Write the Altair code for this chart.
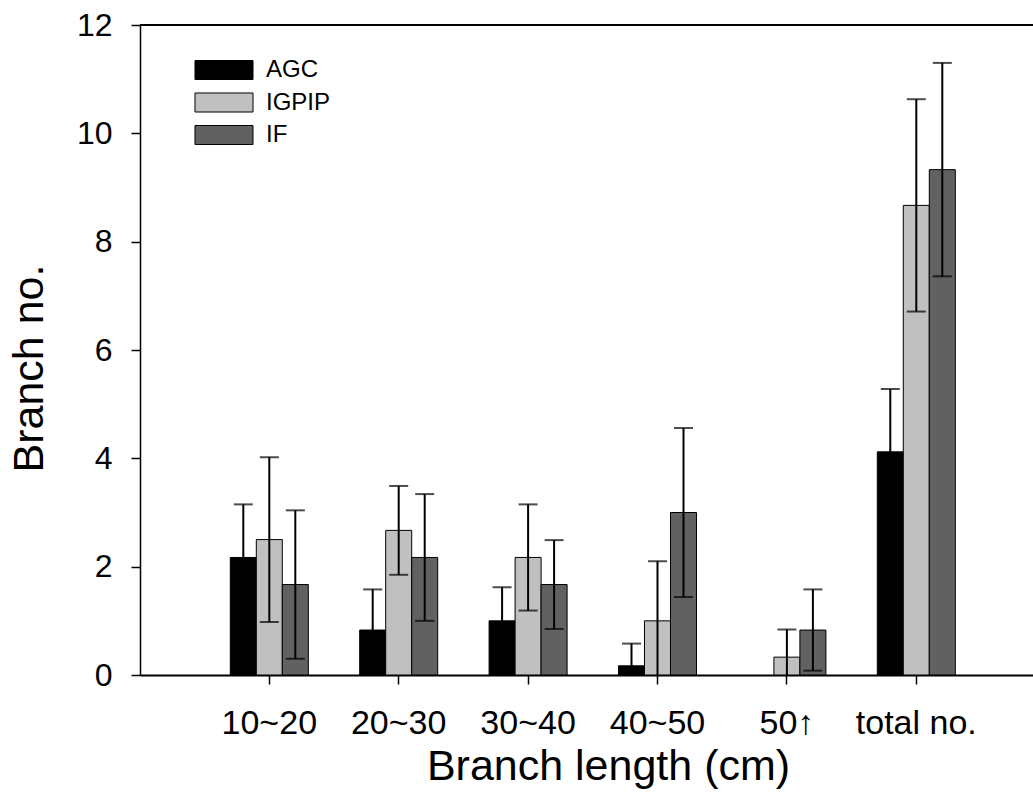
import altair as alt
import pandas as pd

categories = ["10~20", "20~30", "30~40", "40~50", "50↑", "total no."]
series = ["AGC", "IGPIP", "IF"]
colors = ["#000000", "#c0c0c0", "#616161"]

agc_mean = [2.17, 0.83, 1.00, 0.17, 0.00, 4.12]
agc_sd = [0.98, 0.75, 0.62, 0.41, 0.00, 1.16]
igpip_mean = [2.50, 2.67, 2.17, 1.00, 0.33, 8.67]
igpip_sd = [1.52, 0.82, 0.98, 1.10, 0.51, 1.96]
if_mean = [1.67, 2.17, 1.67, 3.00, 0.83, 9.33]
if_sd = [1.37, 1.17, 0.82, 1.56, 0.75, 1.97]

y_ticks = [0, 2, 4, 6, 8, 10, 12]

rows = []
for name, means, sds in [("AGC", agc_mean, agc_sd), ("IGPIP", igpip_mean, igpip_sd), ("IF", if_mean, if_sd)]:
    for c, m, s in zip(categories, means, sds):
        rows.append({"cat": c, "series": name, "mean": m, "sd": s})
df = pd.DataFrame(rows)

W, H = 893, 650
FONT = "Liberation Sans"

x_scale = alt.Scale(domain=categories, paddingInner=0, paddingOuter=0.4506, align=0.554)
xo_scale = alt.Scale(domain=series, paddingInner=0, paddingOuter=0.988)

base = alt.Chart(df).encode(
    x=alt.X("cat:N", scale=x_scale, sort=categories,
            axis=alt.Axis(title="Branch length (cm)", labelAngle=0, tickSize=9, tickWidth=1.5,
                          domainWidth=2, domainColor="black", tickColor="black",
                          labelFont=FONT, labelFontSize=34, labelColor="black",
                          labelBaseline="alphabetic", labelPadding=49,
                          titleFont=FONT, titleFontSize=43, titleFontWeight="normal",
                          titleColor="black", titleX=468, titleY=104,
                          titleBaseline="alphabetic", titleAlign="center")),
    xOffset=alt.XOffset("series:N", scale=xo_scale, sort=series),
)

bars = base.transform_filter("datum.mean > 0").mark_bar(stroke="black", strokeWidth=1).encode(
    y=alt.Y("mean:Q", scale=alt.Scale(domain=[0, 12], nice=False),
            axis=alt.Axis(title="Branch no.", values=y_ticks, format="d", grid=False, tickSize=9,
                          tickWidth=1.5, domainWidth=1.5, domainColor="black", tickColor="black",
                          labelFont=FONT, labelFontSize=32, labelColor="black",
                          labelPadding=19,
                          titleFont=FONT, titleFontSize=43, titleFontWeight="normal",
                          titleColor="black", titleX=-98, titleY=343, titleAngle=270,
                          titleBaseline="alphabetic", titleAlign="center")),
    color=alt.Color("series:N", scale=alt.Scale(domain=series, range=colors), sort=series,
                    legend=alt.Legend(title=None, orient="none", legendX=72, legendY=33,
                                      symbolType="M-3,-0.983H3V0.983H-3Z", symbolSize=374,
                                      symbolStrokeColor="black", symbolStrokeWidth=1,
                                      symbolOpacity=1, labelFont=FONT, labelFontSize=24,
                                      labelColor="black", labelOffset=30, rowPadding=8.5)),
)

err = base.transform_filter("datum.mean > 0").transform_calculate(
    hi="datum.mean + datum.sd", lo="max(0, datum.mean - datum.sd)"
)

whisk = err.mark_rule(color="black", strokeWidth=2).encode(
    y="lo:Q", y2="hi:Q"
)
cap_hi = err.mark_tick(color="black", thickness=2, size=19, orient="horizontal").encode(
    y="hi:Q"
)
cap_lo = err.transform_filter("datum.mean - datum.sd >= 0").mark_tick(
    color="black", thickness=2, size=19, orient="horizontal").encode(y="lo:Q")

top_line = alt.Chart(df).mark_rule(color="black", strokeWidth=1.5).encode(
    x=alt.value(0), x2=alt.value(W), y=alt.value(0)
)

chart = alt.layer(bars, whisk, cap_hi, cap_lo, top_line).properties(
    width=W, height=H,
    autosize=alt.AutoSizeParams(type="none"),
    padding={"left": 140, "top": 25, "right": 0, "bottom": 137},
).configure_view(stroke=None).configure(background="white")

chart.save("out.html", embed_options={"renderer": "svg", "actions": False})
